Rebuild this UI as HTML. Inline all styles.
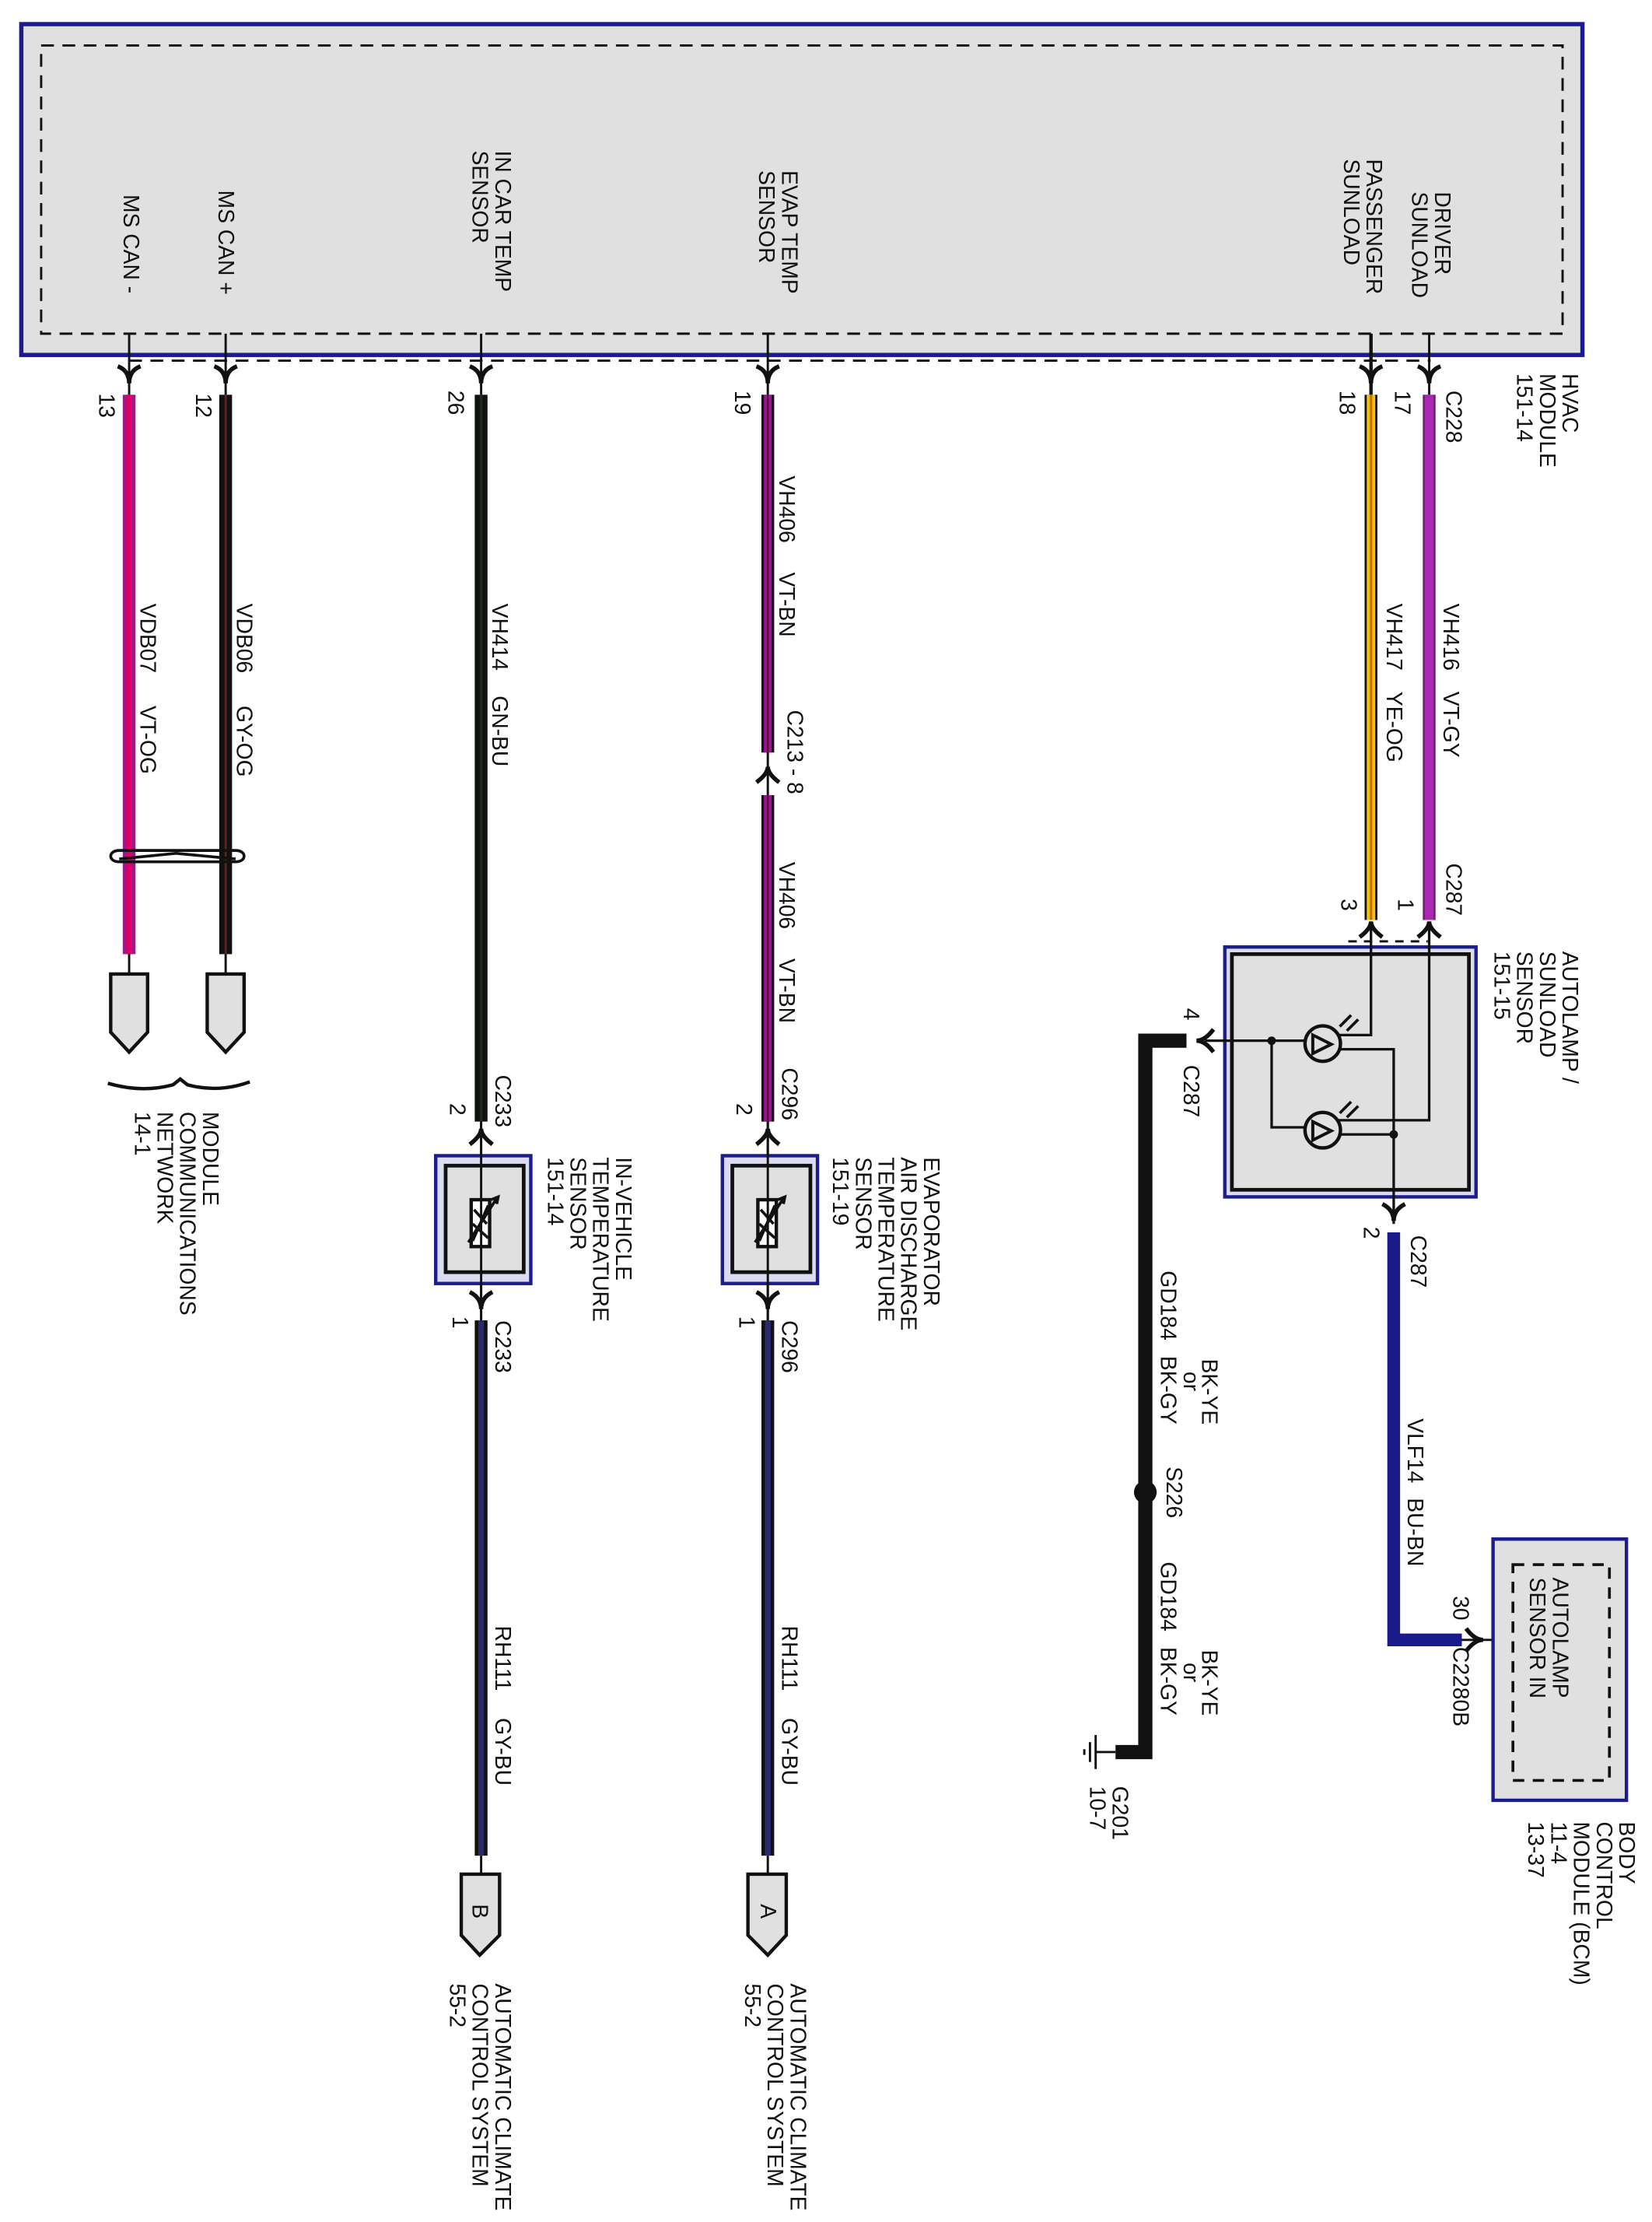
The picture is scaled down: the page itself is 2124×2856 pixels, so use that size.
<!DOCTYPE html>
<html><head><meta charset="utf-8"><style>
html,body{margin:0;padding:0;background:#fff}
svg{display:block}
text{font-family:"Liberation Sans",Arial,sans-serif;font-size:15.5px;fill:#111}
</style></head><body>
<svg width="2124" height="2856" viewBox="0 0 1164 1565" preserveAspectRatio="none" xmlns="http://www.w3.org/2000/svg">
<rect x="0" y="0" width="1164" height="1565" fill="#fff"/>
<rect x="15" y="17" width="1100" height="233" fill="#e0e0e0" stroke="#1c1c8c" stroke-width="3"/>
<rect x="29" y="32" width="1072" height="203" fill="none" stroke="#111" stroke-width="1.6" stroke-dasharray="9,6"/>
<line x1="91" y1="254" x2="1008" y2="254" stroke="#111" stroke-width="1.6" stroke-dasharray="9,6"/>
<g stroke="#111" stroke-width="1.6">
<line x1="91" y1="235" x2="91" y2="278"/><line x1="159" y1="235" x2="159" y2="278"/>
<line x1="339" y1="235" x2="339" y2="278"/><line x1="541" y1="235" x2="541" y2="278"/>
<line x1="966" y1="235" x2="966" y2="278" stroke-width="2.4"/><line x1="1007" y1="235" x2="1007" y2="278"/>
</g>
<g fill="none" stroke="#111" stroke-width="3">
<path d="M83,258 Q91,261 91,270 Q91,261 99,258"/>
<path d="M151,258 Q159,261 159,270 Q159,261 167,258"/>
<path d="M331,258 Q339,261 339,270 Q339,261 347,258"/>
<path d="M533,258 Q541,261 541,270 Q541,261 549,258"/>
<path d="M958,258 Q966,261 966,270 Q966,261 974,258"/>
<path d="M999,258 Q1007,261 1007,270 Q1007,261 1015,258"/>
</g>
<g>
<line x1="91" y1="278" x2="91" y2="672" stroke="#9a1a8e" stroke-width="9"/>
<line x1="91" y1="278" x2="91" y2="672" stroke="#e0006a" stroke-width="4"/>
<line x1="159" y1="278" x2="159" y2="672" stroke="#111" stroke-width="9"/>
<line x1="159" y1="278" x2="159" y2="672" stroke="#6a2020" stroke-width="1.5"/>
<line x1="339" y1="278" x2="339" y2="790" stroke="#111" stroke-width="9"/>
<line x1="339" y1="278" x2="339" y2="790" stroke="#1c2a1c" stroke-width="2"/>
<line x1="541" y1="278" x2="541" y2="530" stroke="#111" stroke-width="9"/>
<line x1="541" y1="278" x2="541" y2="530" stroke="#a0109a" stroke-width="5.5"/>
<line x1="541" y1="278" x2="541" y2="530" stroke="#4a1a1a" stroke-width="1.2"/>
<line x1="541" y1="560" x2="541" y2="790" stroke="#111" stroke-width="9"/>
<line x1="541" y1="560" x2="541" y2="790" stroke="#a0109a" stroke-width="5.5"/>
<line x1="541" y1="560" x2="541" y2="790" stroke="#4a1a1a" stroke-width="1.2"/>
<line x1="966" y1="278" x2="966" y2="648" stroke="#111" stroke-width="9"/>
<line x1="966" y1="278" x2="966" y2="648" stroke="#f5c400" stroke-width="6"/>
<line x1="966" y1="278" x2="966" y2="648" stroke="#d06a00" stroke-width="1.8"/>
<line x1="1007" y1="278" x2="1007" y2="648" stroke="#7a1a7a" stroke-width="9"/>
<line x1="1007" y1="278" x2="1007" y2="648" stroke="#a82ab0" stroke-width="6"/>
<line x1="339" y1="930" x2="339" y2="1307" stroke="#111" stroke-width="9"/>
<line x1="339" y1="930" x2="339" y2="1307" stroke="#2a2a70" stroke-width="4"/>
<line x1="541" y1="930" x2="541" y2="1307" stroke="#111" stroke-width="9"/>
<line x1="541" y1="930" x2="541" y2="1307" stroke="#2a2a70" stroke-width="4"/>
<path d="M982,868 L982,1155 L1030,1155" fill="none" stroke="#1a1a8a" stroke-width="9"/>
<path d="M836,733 L807,733 L807,1234 L786,1234" fill="none" stroke="#111" stroke-width="10"/>
</g>
<g stroke="#111" stroke-width="1.6" fill="none">
<line x1="91" y1="672" x2="91" y2="686"/><line x1="159" y1="672" x2="159" y2="686"/>
<line x1="541" y1="530" x2="541" y2="560"/>
<line x1="339" y1="790" x2="339" y2="930"/><line x1="541" y1="790" x2="541" y2="930"/>
<line x1="339" y1="1307" x2="339" y2="1320"/><line x1="541" y1="1307" x2="541" y2="1320"/>
<line x1="1030" y1="1155" x2="1065" y2="1155"/>
<line x1="786" y1="1234" x2="772" y2="1234"/>
<line x1="772" y1="1222" x2="772" y2="1246"/><line x1="768" y1="1227" x2="768" y2="1241"/><line x1="764" y1="1232" x2="764" y2="1236"/>
</g>
<g stroke="#111" stroke-width="2" fill="none">
<path d="M84,599 C76,599 76,607 84,607 L166,607 C174,607 174,599 166,599 Z"/>
<path d="M84,605 L124,601 L166,605"/>
</g>
<g fill="#e0e0e0" stroke="#111" stroke-width="2.4">
<path d="M78,686 L104,686 L104,727 L91,741 L78,727 Z"/>
<path d="M146,686 L172,686 L172,727 L159,741 L146,727 Z"/>
<path d="M325,1320 L352,1320 L352,1363 L338,1377 L325,1363 Z"/>
<path d="M527,1320 L554,1320 L554,1363 L541,1377 L527,1363 Z"/>
</g>
<path d="M76,763 Q100,770 122,764 L127,760 L132,764 Q154,770 176,762" fill="none" stroke="#111" stroke-width="2.4"/>
<g>
<rect x="307" y="814" width="67" height="90" fill="#dcdcf0" stroke="#1c1c8c" stroke-width="2.4"/>
<rect x="314" y="821" width="55" height="75" fill="#e0e0e0" stroke="#111" stroke-width="2.6"/>
<rect x="332" y="845" width="13" height="33" fill="#fff" stroke="#111" stroke-width="2.4"/>
<path d="M333,874 L344,849 M333,862 L344,872 M334,852 L343,862" stroke="#111" stroke-width="2"/>
<path d="M330,875 L350,844 M346,845 L351,843 L350,848" stroke="#111" stroke-width="2" fill="none"/>
<rect x="509" y="814" width="67" height="90" fill="#dcdcf0" stroke="#1c1c8c" stroke-width="2.4"/>
<rect x="516" y="821" width="55" height="75" fill="#e0e0e0" stroke="#111" stroke-width="2.6"/>
<rect x="534" y="845" width="13" height="33" fill="#fff" stroke="#111" stroke-width="2.4"/>
<path d="M535,874 L546,849 M535,862 L546,872 M536,852 L545,862" stroke="#111" stroke-width="2"/>
<path d="M532,875 L552,844 M548,845 L553,843 L552,848" stroke="#111" stroke-width="2" fill="none"/>
<line x1="339" y1="790" x2="339" y2="930" stroke="#111" stroke-width="1.6"/>
<line x1="541" y1="790" x2="541" y2="930" stroke="#111" stroke-width="1.6"/>
</g>
<g fill="none" stroke="#111" stroke-width="3">
<path d="M331,806 Q339,800 339,795 Q339,800 347,806"/>
<path d="M331,910 Q339,914 339,922 Q339,914 347,910"/>
<path d="M533,806 Q541,800 541,795 Q541,800 549,806"/>
<path d="M533,910 Q541,914 541,922 Q541,914 549,910"/>
<path d="M533,551 Q541,545 541,540 Q541,545 549,551"/>
<path d="M958,660 Q966,654 966,649 Q966,654 974,660"/>
<path d="M999,660 Q1007,654 1007,649 Q1007,654 1015,660"/>
<path d="M855,725 Q849,733 843,733 Q849,733 855,741"/>
<path d="M974,848 Q982,852 982,860 Q982,852 990,848"/>
<path d="M1033,1147 Q1039,1155 1045,1155 Q1039,1155 1033,1163"/>
</g>
<rect x="863" y="667" width="177" height="176" fill="#dcdcf0" stroke="#1c1c8c" stroke-width="2.4"/>
<rect x="868" y="672" width="167" height="166" fill="#e0e0e0" stroke="#111" stroke-width="2.6"/>
<line x1="950" y1="663" x2="1006" y2="663" stroke="#111" stroke-width="1.6" stroke-dasharray="6,5"/>
<g fill="none" stroke="#111" stroke-width="1.8">
<path d="M966,649 L966,729 L943,729"/>
<path d="M1007,649 L1007,789 L943,789"/>
<path d="M849,733 L919,733"/>
<path d="M896,733 L896,794 L919,794"/>
<path d="M943,739 L982,739 L982,862"/>
<path d="M943,799 L982,799"/>
<circle cx="932" cy="735" r="12.5" stroke-width="2.4"/>
<circle cx="932" cy="796" r="12.5" stroke-width="2.4"/>
<path d="M925,729 L925,742 L938,735.5 Z" stroke-width="2.2"/>
<path d="M925,790 L925,803 L938,796.5 Z" stroke-width="2.2"/>
<path d="M944,723 L952,715 M949,726 L957,718 M944,784 L952,776 M949,787 L957,779" stroke-width="2"/>
</g>
<circle cx="896" cy="733" r="3" fill="#111"/>
<circle cx="982" cy="799" r="3" fill="#111"/>
<circle cx="807" cy="1051" r="8" fill="#111"/>
<rect x="1052" y="1084" width="94" height="184" fill="#e0e0e0" stroke="#1c1c8c" stroke-width="2.4"/>
<rect x="1066" y="1102" width="68" height="152" fill="none" stroke="#111" stroke-width="2" stroke-dasharray="8,6"/>
<g>
<text transform="translate(87,137) rotate(90)">MS CAN -</text>
<text transform="translate(154,134) rotate(90)">MS CAN +</text>
<text transform="translate(349,106) rotate(90)">IN CAR TEMP</text>
<text transform="translate(333,106) rotate(90)">SENSOR</text>
<text transform="translate(551,120) rotate(90)">EVAP TEMP</text>
<text transform="translate(535,120) rotate(90)">SENSOR</text>
<text transform="translate(963,112) rotate(90)">PASSENGER</text>
<text transform="translate(947,112) rotate(90)">SUNLOAD</text>
<text transform="translate(1011,135) rotate(90)">DRIVER</text>
<text transform="translate(995,135) rotate(90)">SUNLOAD</text>
<text transform="translate(1101,263) rotate(90)">HVAC</text>
<text transform="translate(1085,263) rotate(90)">MODULE</text>
<text transform="translate(1069,263) rotate(90)">151-14</text>
<text transform="translate(70,277) rotate(90)">13</text>
<text transform="translate(138,277) rotate(90)">12</text>
<text transform="translate(316,275) rotate(90)">26</text>
<text transform="translate(518,275) rotate(90)">19</text>
<text transform="translate(944,275) rotate(90)">18</text>
<text transform="translate(983,275) rotate(90)">17</text>
<text transform="translate(1019,275) rotate(90)">C228</text>
<text transform="translate(99,425) rotate(90)">VDB07</text><text transform="translate(99,497) rotate(90)">VT-OG</text>
<text transform="translate(167,425) rotate(90)">VDB06</text><text transform="translate(167,497) rotate(90)">GY-OG</text>
<text transform="translate(347,425) rotate(90)">VH414</text><text transform="translate(347,490) rotate(90)">GN-BU</text>
<text transform="translate(549,335) rotate(90)">VH406</text><text transform="translate(549,403) rotate(90)">VT-BN</text>
<text transform="translate(555,500) rotate(90)">C213 - 8</text>
<text transform="translate(549,607) rotate(90)">VH406</text><text transform="translate(549,675) rotate(90)">VT-BN</text>
<text transform="translate(977,425) rotate(90)">VH417</text><text transform="translate(977,487) rotate(90)">YE-OG</text>
<text transform="translate(1017,425) rotate(90)">VH416</text><text transform="translate(1017,487) rotate(90)">VT-GY</text>
<text transform="translate(1019,608) rotate(90)">C287</text>
<text transform="translate(945,633) rotate(90)">3</text>
<text transform="translate(985,633) rotate(90)">1</text>
<text transform="translate(1101,670) rotate(90)">AUTOLAMP /</text>
<text transform="translate(1085,670) rotate(90)">SUNLOAD</text>
<text transform="translate(1069,670) rotate(90)">SENSOR</text>
<text transform="translate(1053,670) rotate(90)">151-15</text>
<text transform="translate(834,710) rotate(90)">4</text>
<text transform="translate(834,750) rotate(90)">C287</text>
<text transform="translate(961,864) rotate(90)">2</text>
<text transform="translate(994,870) rotate(90)">C287</text>
<text transform="translate(349,757) rotate(90)">C233</text>
<text transform="translate(317,777) rotate(90)">2</text>
<text transform="translate(551,752) rotate(90)">C296</text>
<text transform="translate(519,777) rotate(90)">2</text>
<text transform="translate(143,783) rotate(90)">MODULE</text>
<text transform="translate(127,783) rotate(90)">COMMUNICATIONS</text>
<text transform="translate(111,783) rotate(90)">NETWORK</text>
<text transform="translate(95,783) rotate(90)">14-1</text>
<text transform="translate(434,815) rotate(90)">IN-VEHICLE</text>
<text transform="translate(418,815) rotate(90)">TEMPERATURE</text>
<text transform="translate(402,815) rotate(90)">SENSOR</text>
<text transform="translate(386,815) rotate(90)">151-14</text>
<text transform="translate(651,815) rotate(90)">EVAPORATOR</text>
<text transform="translate(635,815) rotate(90)">AIR DISCHARGE</text>
<text transform="translate(619,815) rotate(90)">TEMPERATURE</text>
<text transform="translate(603,815) rotate(90)">SENSOR</text>
<text transform="translate(587,815) rotate(90)">151-19</text>
<text transform="translate(319,927) rotate(90)">1</text>
<text transform="translate(349,930) rotate(90)">C233</text>
<text transform="translate(521,927) rotate(90)">1</text>
<text transform="translate(551,930) rotate(90)">C296</text>
<text transform="translate(349,1145) rotate(90)">RH111</text><text transform="translate(349,1210) rotate(90)">GY-BU</text>
<text transform="translate(551,1145) rotate(90)">RH111</text><text transform="translate(551,1210) rotate(90)">GY-BU</text>
<text transform="translate(333,1341) rotate(90)">B</text>
<text transform="translate(536,1341) rotate(90)">A</text>
<text transform="translate(349,1397) rotate(90)">AUTOMATIC CLIMATE</text>
<text transform="translate(333,1397) rotate(90)">CONTROL SYSTEM</text>
<text transform="translate(317,1397) rotate(90)">55-2</text>
<text transform="translate(557,1397) rotate(90)">AUTOMATIC CLIMATE</text>
<text transform="translate(541,1397) rotate(90)">CONTROL SYSTEM</text>
<text transform="translate(525,1397) rotate(90)">55-2</text>
<text transform="translate(818,895) rotate(90)">GD184</text>
<text transform="translate(818,955) rotate(90)">BK-GY</text>
<text transform="translate(847,957) rotate(90)">BK-YE</text>
<text transform="translate(834,966) rotate(90)">or</text>
<text transform="translate(822,1033) rotate(90)">S226</text>
<text transform="translate(818,1100) rotate(90)">GD184</text>
<text transform="translate(818,1160) rotate(90)">BK-GY</text>
<text transform="translate(847,1162) rotate(90)">BK-YE</text>
<text transform="translate(834,1171) rotate(90)">or</text>
<text transform="translate(784,1258) rotate(90)">G201</text>
<text transform="translate(768,1258) rotate(90)">10-7</text>
<text transform="translate(992,999) rotate(90)">VLF14</text><text transform="translate(992,1055) rotate(90)">BU-BN</text>
<text transform="translate(1024,1124) rotate(90)">30</text>
<text transform="translate(1024,1160) rotate(90)">C2280B</text>
<text transform="translate(1094,1111) rotate(90)">AUTOLAMP</text>
<text transform="translate(1078,1111) rotate(90)">SENSOR IN</text>
<text transform="translate(1141,1283) rotate(90)">BODY</text>
<text transform="translate(1125,1283) rotate(90)">CONTROL</text>
<text transform="translate(1109,1283) rotate(90)">MODULE (BCM)</text>
<text transform="translate(1093,1283) rotate(90)">11-4</text>
<text transform="translate(1077,1283) rotate(90)">13-37</text>
</g>
</svg>
</body></html>
